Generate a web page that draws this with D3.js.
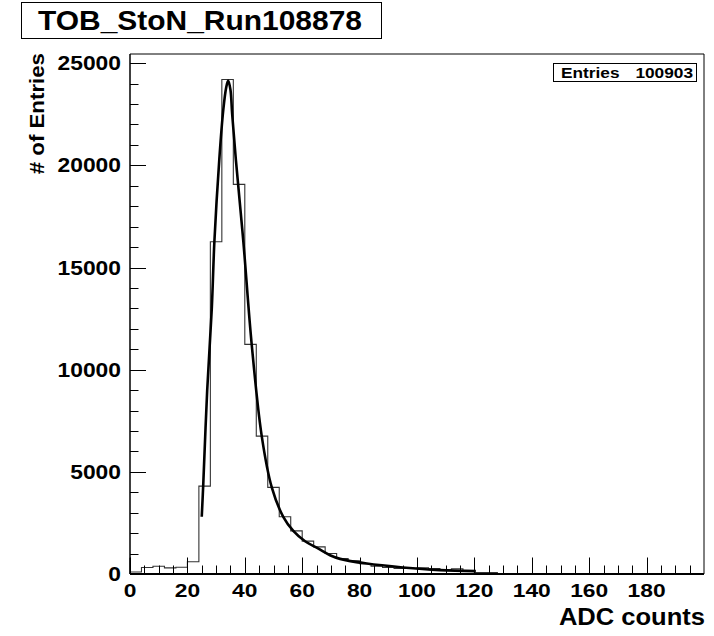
<!DOCTYPE html>
<html>
<head>
<meta charset="utf-8">
<script src="https://cdn.jsdelivr.net/npm/d3@7"></script>
<style>
  html, body { margin: 0; padding: 0; background: #fff; }
  svg { display: block; }
  text { font-family: "Liberation Sans", Arial, Helvetica, sans-serif; font-weight: bold; fill: #000; }
</style>
</head>
<body>
<script>
// Histogram: 50 bins of width 4 ADC counts over [0, 200)
const binWidth = 4;
const binLow = d3.range(0, 200, binWidth);
const counts = [
  100, 320, 380, 300, 330,
  600, 4300, 16260, 24200, 19070,
  11240, 6750, 4240, 2800, 2110,
  1610, 1330, 1000, 760, 640,
  510, 380, 320, 270, 270,
  300, 270, 190, 260, 150,
  70, 70, 0, 0, 0,
  0, 0, 0, 0, 0,
  0, 0, 0, 0, 0,
  0, 0, 0, 0, 0
];
// short spike drawn at the left edge of the first bin
const edgeSpike = 800;

// Fitted curve (Landau-like), sampled points
const fitX = [25.0, 25.5, 26.9, 28.5, 29.4, 31.1, 32.5, 33.5, 34.2, 35.0, 35.6, 36.9, 39.5, 42.4, 45.9, 49.4, 53.4, 56.9, 61.0, 65.5, 69.7, 73.2, 82.5, 95.1, 108.0, 120.5];
const fitY = [2800, 4300, 9000, 13000, 16260, 20260, 22710, 23800, 24150, 23700, 22500, 20260, 16260, 11240, 6750, 4240, 2800, 2110, 1600, 1250, 920, 740, 510, 320, 190, 140];

const xTicksMajor = [0, 20, 40, 60, 80, 100, 120, 140, 160, 180];
const xTicksMinor = d3.range(0, 200, 5);
const yTicksMajor = [0, 5000, 10000, 15000, 20000, 25000];
const yTicksMinor = d3.range(0, 25001, 1000);

const titleText = "TOB_StoN_Run108878";
const xTitle = "ADC counts";
const yTitle = "# of Entries";
const entries = 100903;

const W = 714, H = 636;
const frame = { left: 130, right: 704, top: 54, bottom: 574 };

const svg = d3.select("body").append("svg").attr("width", W).attr("height", H);
svg.append("rect").attr("width", W).attr("height", H).attr("fill", "#fff");

const x = d3.scaleLinear().domain([0, 200]).range([frame.left, frame.right]);
const y = d3.scaleLinear().domain([0, 25450]).range([frame.bottom, frame.top]);

// widen glyphs to the wider Helvetica-style look
function stretch(sel, f) {
  sel.each(function () {
    const len = this.getComputedTextLength();
    d3.select(this).attr("textLength", len * f).attr("lengthAdjust", "spacingAndGlyphs");
  });
}

// frame (top and right)
svg.append("path")
  .attr("d", `M${frame.left},${frame.top}H${frame.right}V${frame.bottom}`)
  .attr("fill", "none").attr("stroke", "#000").attr("stroke-width", 1);

// histogram step line
const hist = d3.path();
hist.moveTo(x(0), y(0));
hist.lineTo(x(0), y(edgeSpike));
hist.lineTo(x(0), y(counts[0]));
counts.forEach((c, i) => {
  hist.lineTo(x(binLow[i]), y(c));
  hist.lineTo(x(binLow[i] + binWidth), y(c));
});
svg.append("path").attr("d", hist.toString())
  .attr("fill", "none").attr("stroke", "#333").attr("stroke-width", 1.1);

// fit curve
const fitLine = d3.line().x(d => x(d[0])).y(d => y(d[1])).curve(d3.curveCatmullRom.alpha(0.5));
svg.append("path").attr("d", fitLine(fitX.map((v, i) => [v, fitY[i]])))
  .attr("fill", "none").attr("stroke", "#000").attr("stroke-width", 2.6).attr("stroke-linejoin", "round");

// X ticks point up into the plot
svg.append("g").selectAll("line").data(xTicksMinor).join("line")
  .attr("x1", d => Math.round(x(d)) + 0.5).attr("x2", d => Math.round(x(d)) + 0.5)
  .attr("y1", frame.bottom).attr("y2", d => frame.bottom - (d % 20 === 0 ? 16.5 : 8.5))
  .attr("stroke", "#000").attr("stroke-width", 1);
svg.append("line").attr("x1", frame.left).attr("x2", frame.right)
  .attr("y1", frame.bottom).attr("y2", frame.bottom).attr("stroke", "#000").attr("stroke-width", 2);

const xLabels = svg.append("g").selectAll("text").data(xTicksMajor).join("text")
  .attr("x", d => x(d)).attr("y", 597).attr("text-anchor", "middle")
  .attr("font-size", 19).text(d => d);
stretch(xLabels, 1.2);

// Y ticks point right into the plot
svg.append("g").selectAll("line").data(yTicksMinor).join("line")
  .attr("y1", d => Math.round(y(d)) + 0.5).attr("y2", d => Math.round(y(d)) + 0.5)
  .attr("x1", frame.left).attr("x2", d => frame.left + (d % 5000 === 0 ? 16 : 8.5))
  .attr("stroke", "#000").attr("stroke-width", 1);
svg.append("line").attr("x1", frame.left).attr("x2", frame.left)
  .attr("y1", frame.top).attr("y2", frame.bottom).attr("stroke", "#000").attr("stroke-width", 1.5);

const yLabels = svg.append("g").selectAll("text").data(yTicksMajor).join("text")
  .attr("x", 121).attr("y", d => y(d) + 7).attr("text-anchor", "end")
  .attr("font-size", 19.5).text(d => d);
stretch(yLabels, 1.17);

// axis titles
const xt = svg.append("text").attr("x", 705).attr("y", 625).attr("text-anchor", "end")
  .attr("font-size", 23).text(xTitle);
stretch(xt, 1.11);
const yt = svg.append("text").attr("transform", "translate(44,53) rotate(-90)")
  .attr("text-anchor", "end").attr("font-size", 21).text(yTitle);
stretch(yt, 1.06);

// title box
svg.append("rect").attr("x", 21.5).attr("y", 2.5).attr("width", 360).attr("height", 36)
  .attr("fill", "#fff").attr("stroke", "#000").attr("stroke-width", 1);
svg.append("text").attr("x", 38).attr("y", 29.5).attr("font-size", 28)
  .attr("textLength", 324).attr("lengthAdjust", "spacingAndGlyphs").text(titleText);

// statistics box
svg.append("rect").attr("x", 553.5).attr("y", 63.5).attr("width", 143).attr("height", 18)
  .attr("fill", "#fff").attr("stroke", "#000").attr("stroke-width", 1);
const st1 = svg.append("text").attr("x", 561).attr("y", 77.5).attr("font-size", 15).text("Entries");
stretch(st1, 1.15);
const st2 = svg.append("text").attr("x", 693).attr("y", 77.5).attr("text-anchor", "end").attr("font-size", 15).text(entries);
stretch(st2, 1.15);
</script>
</body>
</html>
